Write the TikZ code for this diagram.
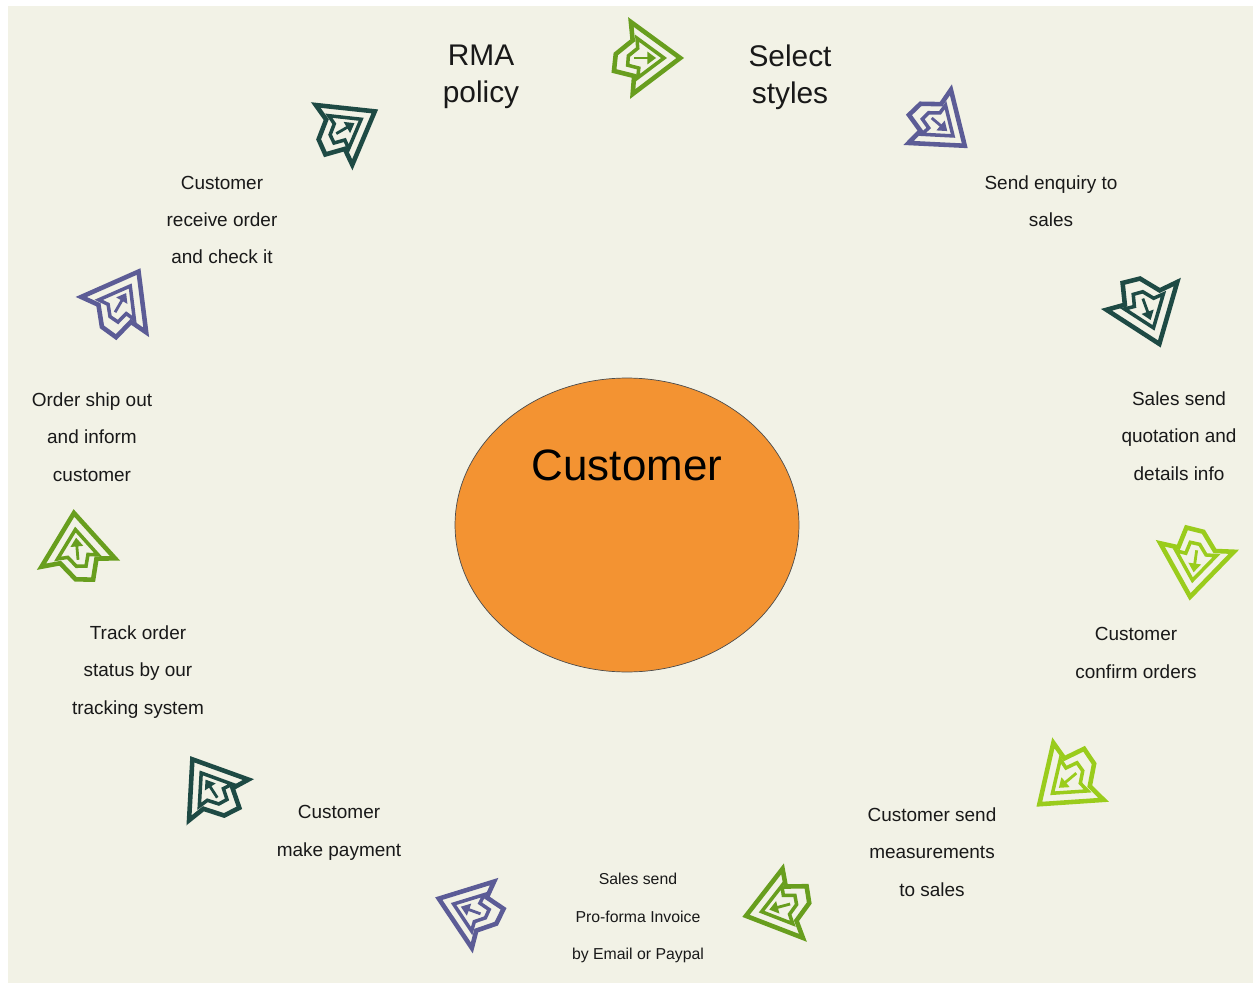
\documentclass[tikz,border=0pt]{standalone}
\usepackage{fontspec}
\setmainfont{Liberation Sans}
\usepackage{tikz}
\usetikzlibrary{arrows.meta,shapes,positioning,calc}
\definecolor{paper}{RGB}{242,242,230}
\definecolor{leaf}{RGB}{104,158,30}
\definecolor{lime}{RGB}{154,204,28}
\definecolor{violet}{RGB}{92,92,150}
\definecolor{pine}{RGB}{30,74,68}
\definecolor{orange}{RGB}{243,147,50}

\begin{document}
\begin{tikzpicture}[x=0.02cm, y=-0.02cm,
    step label/.style={align=center, text=black!90, font=\fontsize{10.8}{21.3}\selectfont},
    big label/.style={align=center, text=black!90, font=\fontsize{17}{21}\selectfont},
    cycarrow/.pic={
        \draw[line width=2.6pt, line join=miter] (0.95,0) -- (-0.37,1.0) -- (-0.33,0.5) -- (-0.89,0.36)
            -- (-0.84,-0.11) -- (-0.37,-0.49) -- (-0.42,-1.0) -- cycle;
        \draw[line width=2pt, line join=miter] (0.5,0) -- (-0.23,0.55) -- (-0.2,0.28) -- (-0.51,0.2)
            -- (-0.49,-0.06) -- (-0.23,-0.27) -- (-0.25,-0.55) -- cycle;
        \draw[line width=1.6pt, -{Triangle[length=5pt, width=7pt]}] (-0.32,0) -- (0.28,0);
    }
]
    \useasboundingbox (0,0) rectangle (1253,983);
    \fill[paper] (8,6) rectangle (1253,983);

    % Customer
    \node[ellipse, draw=black!70, fill=orange, minimum width=6.88cm, minimum height=5.88cm] (customer) at (627,525) {};
    \node[font=\fontsize{25}{30}\selectfont] (custlabel) at (627,465) {Customer};

    % Steps
    \node[big label] (rma) at (481,77) {RMA\\policy};
    \node[big label] (select) at (790,77) {Select\\styles};
    \node[step label] (enquiry) at (1051,201) {Send enquiry to\\sales};
    \node[step label] (quote) at (1179,436) {Sales send\\quotation and\\details info};
    \node[step label] (confirm) at (1136,653) {Customer\\confirm orders};
    \node[step label] (measure) at (932,852) {Customer send\\measurements\\to sales};
    \node[step label, font=\fontsize{9}{21.3}\selectfont] (invoice) at (638,918) {Sales send\\Pro-forma Invoice\\by Email or Paypal};
    \node[step label] (payment) at (339,833) {Customer\\make payment};
    \node[step label] (track) at (138,672) {Track order\\status by our\\tracking system};
    \node[step label] (ship) at (92,437) {Order ship out\\and inform\\customer};
    \node[step label] (receive) at (222,220) {Customer\\receive order\\and check it};

    % Arrows round the circle
    \pic[leaf, rotate=0, scale=36] at (646,58) {cycarrow};
    \pic[violet, rotate=-40, scale=34] at (940,125) {cycarrow};
    \pic[pine, rotate=-70, scale=38] at (1147,310) {cycarrow};
    \pic[lime, rotate=-98, scale=37] at (1195,562) {cycarrow};
    \pic[lime, rotate=-140, scale=38] at (1067,781) {cycarrow};
    \pic[leaf, rotate=-165, scale=36] at (779,907) {cycarrow};
    \pic[violet, rotate=160, scale=35] at (470,910) {cycarrow};
    \pic[pine, rotate=123, scale=36] at (211,788) {cycarrow};
    \pic[leaf, rotate=95, scale=37] at (77,548) {cycarrow};
    \pic[violet, rotate=60, scale=37] at (121,302) {cycarrow};
    \pic[pine, rotate=30, scale=35] at (346,128) {cycarrow};
\end{tikzpicture}
\end{document}
